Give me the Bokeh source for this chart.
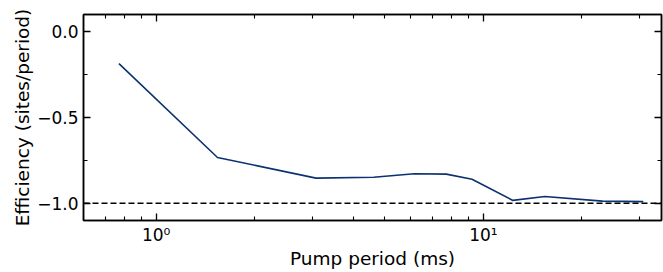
from bokeh.plotting import figure
from bokeh.models import FixedTicker, LogAxis, LinearAxis, Span
from bokeh.embed import file_html
from bokeh.resources import INLINE

# Data
pump_period_ms = [0.77, 1.54, 3.08, 4.62, 6.15, 7.7, 9.23, 12.3, 15.4, 23.1, 30.8]
efficiency = [-0.186, -0.733, -0.853, -0.848, -0.828, -0.830, -0.860, -0.983, -0.960, -0.987, -0.990]
reference_level = -1.0

x_major = [1, 10]
x_minor = [0.6, 0.7, 0.8, 0.9, 2, 3, 4, 5, 6, 7, 8, 9, 20, 30]
x_labels = {1: "10\u2070", 10: "10\u00b9"}
y_major = [0.0, -0.5, -1.0]
y_minor = [0.0, -0.25, -0.5, -0.75, -1.0]
y_labels = {0.0: "0.0", -0.5: "\u22120.5", -1.0: "\u22121.0"}

FONT = "DejaVu Sans"
TICK_FS = "17px"
LABEL_FS = "18.5px"

p = figure(width=663, height=272, x_axis_type="log",
           x_range=(0.6, 35), y_range=(-1.1, 0.1),
           output_backend="svg", toolbar_location=None,
           min_border_left=83, min_border_right=2, min_border_top=14, min_border_bottom=52)

p.line(pump_period_ms, efficiency, line_color="#0b3170", line_width=1.6)
p.add_layout(Span(location=reference_level, dimension="width", line_color="black",
                  line_dash="6 3", line_width=1.5))

p.xgrid.visible = False
p.ygrid.visible = False
p.outline_line_color = "black"
p.outline_line_width = 1.5
p.background_fill_color = "white"
p.border_fill_color = "white"


def style(ax):
    ax.axis_line_color = "black"
    ax.axis_line_width = 1.5
    ax.major_tick_in = 7
    ax.major_tick_out = 0
    ax.minor_tick_in = 4
    ax.minor_tick_out = 0
    ax.major_tick_line_width = 1.3
    ax.minor_tick_line_width = 1.1
    ax.major_tick_line_color = "black"
    ax.minor_tick_line_color = "black"
    ax.major_label_text_font = FONT
    ax.major_label_text_font_size = TICK_FS
    ax.major_label_text_color = "black"
    ax.axis_label_text_font = FONT
    ax.axis_label_text_font_size = LABEL_FS
    ax.axis_label_text_font_style = "normal"
    ax.axis_label_text_color = "black"


xb = p.xaxis[0]
xb.ticker = FixedTicker(ticks=x_major, minor_ticks=x_minor)
xb.major_label_overrides = x_labels
xb.axis_label = "Pump period (ms)"
style(xb)
xb.major_label_standoff = 4
xb.axis_label_standoff = 0

yl = p.yaxis[0]
yl.ticker = FixedTicker(ticks=y_major, minor_ticks=y_minor)
yl.major_label_overrides = y_labels
yl.axis_label = "Efficiency (sites/period)"
style(yl)
yl.major_label_standoff = 5
yl.axis_label_standoff = 1

# mirrored tick marks (no labels) on top and right
xt = LogAxis(ticker=FixedTicker(ticks=x_major, minor_ticks=x_minor),
             major_label_overrides={1: "", 10: ""})
style(xt)
xt.major_label_text_font_size = "0px"
xt.major_label_standoff = 0
p.add_layout(xt, "above")

yr = LinearAxis(ticker=FixedTicker(ticks=y_major, minor_ticks=y_minor),
                major_label_overrides={0.0: "", -0.5: "", -1.0: ""})
style(yr)
yr.major_label_text_font_size = "0px"
yr.major_label_standoff = 0
p.add_layout(yr, "right")

open("out.html", "w").write(file_html(p, INLINE))
